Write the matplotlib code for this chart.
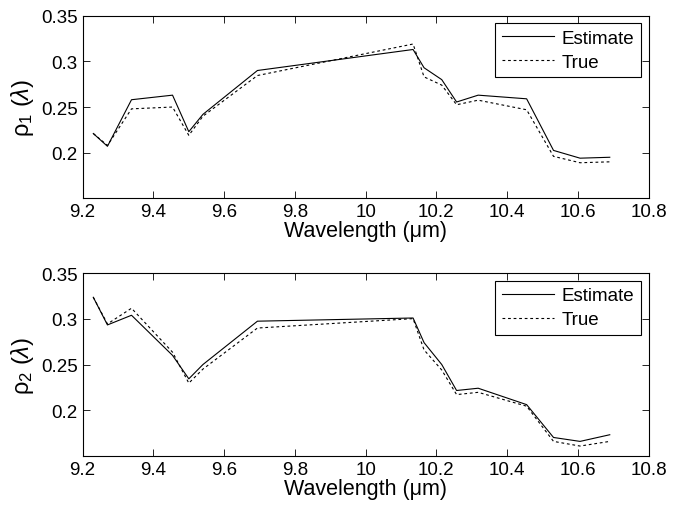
import matplotlib
matplotlib.use('Agg')
import matplotlib.pyplot as plt

# wavelengths of the sampled lines (um)
wavelength = [9.23, 9.27, 9.338, 9.454, 9.50, 9.54, 9.694, 10.134, 10.165,
              10.215, 10.257, 10.318, 10.455, 10.531, 10.606, 10.69]

# panel 1: rho_1
rho1_est = [0.221, 0.207, 0.258, 0.263, 0.223, 0.242, 0.290, 0.313, 0.293,
            0.280, 0.2555, 0.263, 0.259, 0.2025, 0.194, 0.195]
rho1_true = [0.221, 0.208, 0.248, 0.250, 0.219, 0.240, 0.2845, 0.319, 0.283,
             0.274, 0.2525, 0.2575, 0.247, 0.196, 0.189, 0.190]

# panel 2: rho_2
rho2_est = [0.3237, 0.2934, 0.304, 0.260, 0.2343, 0.250, 0.2975, 0.301, 0.274,
            0.250, 0.2215, 0.224, 0.206, 0.170, 0.1657, 0.173]
rho2_true = [0.3237, 0.2945, 0.3117, 0.2635, 0.2296, 0.245, 0.290, 0.3003, 0.266,
             0.244, 0.217, 0.2195, 0.2043, 0.1657, 0.1606, 0.1657]

xticks = [9.2, 9.4, 9.6, 9.8, 10.0, 10.2, 10.4, 10.6, 10.8]
xticklabels = ['9.2', '9.4', '9.6', '9.8', '10', '10.2', '10.4', '10.6', '10.8']
yticks = [0.2, 0.25, 0.3, 0.35]
yticklabels = ['0.2', '0.25', '0.3', '0.35']

plt.rcParams['font.family'] = ['Liberation Sans', 'DejaVu Sans']
plt.rcParams['mathtext.default'] = 'regular'
plt.rcParams['mathtext.fontset'] = 'custom'
plt.rcParams['mathtext.rm'] = 'Liberation Sans'
plt.rcParams['mathtext.it'] = 'Liberation Sans:italic'

fig = plt.figure(figsize=(6.75, 5.06), dpi=100)
ax1 = fig.add_axes([0.1225, 0.606, 0.8385, 0.361])
ax2 = fig.add_axes([0.1225, 0.0974, 0.8385, 0.3605])

panels = [(ax1, rho1_est, rho1_true, r'ρ$_1$ ($\mathit{\lambda}$)'),
          (ax2, rho2_est, rho2_true, r'ρ$_2$ ($\mathit{\lambda}$)')]

for ax, est, true, ylab in panels:
    ax.plot(wavelength, est, color='black', lw=0.8, label='Estimate')
    ax.plot(wavelength, true, color='black', lw=0.8, linestyle=(0, (2.5, 2.5)), label='True')
    ax.set_xlim(9.2, 10.8)
    ax.set_ylim(0.15, 0.35)
    ax.set_xticks(xticks)
    ax.set_xticklabels(xticklabels)
    ax.set_yticks(yticks)
    ax.set_yticklabels(yticklabels)
    ax.tick_params(direction='in', top=True, right=True, labelsize=13.5, length=5, width=0.6)
    for s in ax.spines.values():
        s.set_linewidth(0.8)
    ax.set_xlabel('Wavelength (μm)', fontsize=15.5, labelpad=0)
    ax.set_ylabel(ylab, fontsize=17, labelpad=4)
    leg = ax.legend(loc='upper right', fontsize=13.5, fancybox=False, framealpha=1,
                    edgecolor='black', handlelength=2.8, borderaxespad=0.4,
                    handletextpad=0.4, labelspacing=0.35, borderpad=0.35)
    leg.get_frame().set_linewidth(0.8)

fig.savefig('out.png', dpi=100)
